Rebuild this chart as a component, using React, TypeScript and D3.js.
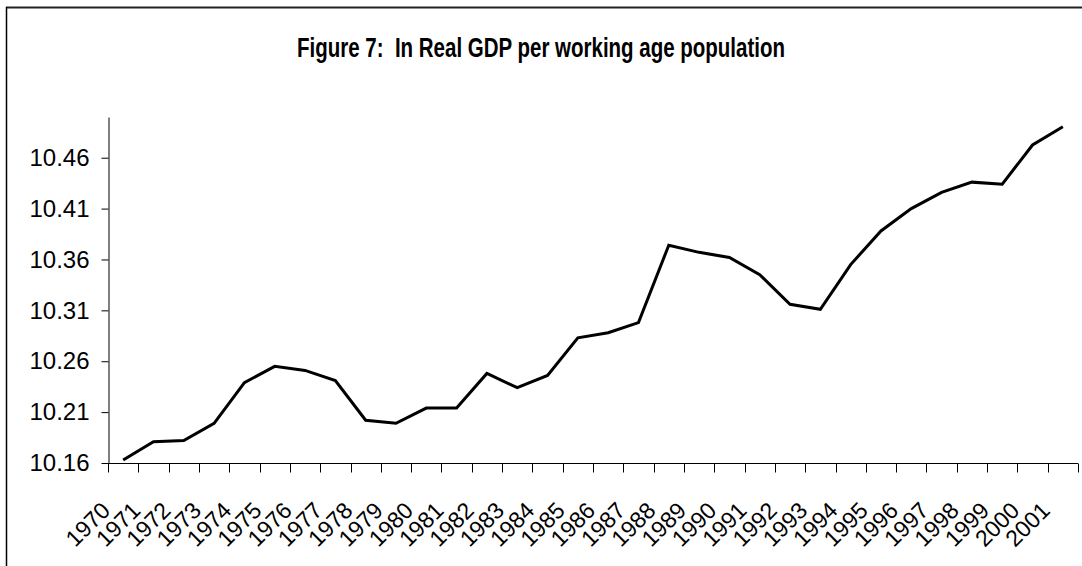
import * as d3 from 'd3';
import React, { useEffect, useRef } from 'react';

const years: string[] = [
    '1970', '1971', '1972', '1973', '1974', '1975', '1976', '1977',
    '1978', '1979', '1980', '1981', '1982', '1983', '1984', '1985',
    '1986', '1987', '1988', '1989', '1990', '1991', '1992', '1993',
    '1994', '1995', '1996', '1997', '1998', '1999', '2000', '2001',
];

// ln real GDP per working age person
const lnGdp: number[] = [
    10.163, 10.181, 10.182, 10.199, 10.239, 10.255, 10.251, 10.241,
    10.202, 10.199, 10.214, 10.214, 10.248, 10.234, 10.246, 10.283,
    10.288, 10.298, 10.374, 10.367, 10.362, 10.345, 10.316, 10.311,
    10.355, 10.388, 10.41, 10.426, 10.436, 10.434, 10.4725, 10.4905,
];

const yTicks: number[] = [10.16, 10.21, 10.26, 10.31, 10.36, 10.41, 10.46];

const title = 'Figure 7:  In Real GDP per working age population';

const width = 1082;
const height = 566;
const marginLeft = 108;
const marginRight = 4;
const marginTop = 117;
const marginBottom = 103;
const font = '"Liberation Sans", Arial, sans-serif';

const App = () => {
    const svgRef = useRef<SVGSVGElement | null>(null);

    useEffect(() => {
        document.body.style.margin = '0';

        const svg = d3.select(svgRef.current);
        svg.selectAll('*').remove();

        const x = d3
            .scaleBand<string>()
            .domain(years)
            .range([marginLeft, width - marginRight]);

        const y = d3
            .scaleLinear()
            .domain([10.16, 10.5])
            .range([height - marginBottom, marginTop]);

        // outer frame of the chart object (runs off right / bottom)
        svg.append('line')
            .attr('x1', 6)
            .attr('x2', width)
            .attr('y1', 7.5)
            .attr('y2', 7.5)
            .attr('stroke', '#222')
            .attr('stroke-width', 2);
        svg.append('line')
            .attr('x1', 6.5)
            .attr('x2', 6.5)
            .attr('y1', 7)
            .attr('y2', height)
            .attr('stroke', '#000')
            .attr('stroke-width', 1.5);

        // narrow bold title, squeezed to the width it has in the original
        svg.append('text')
            .attr('x', 541)
            .attr('y', 57)
            .attr('text-anchor', 'middle')
            .attr('font-family', font)
            .attr('font-weight', 'bold')
            .attr('font-size', 27)
            .attr('fill', '#000')
            .attr('textLength', 488)
            .attr('lengthAdjust', 'spacingAndGlyphs')
            .style('white-space', 'pre')
            .text(title);

        // y axis
        svg.append('g')
            .attr('transform', `translate(${marginLeft + 0.5},0)`)
            .call(
                d3
                    .axisLeft(y)
                    .tickValues(yTicks)
                    .tickFormat(d3.format('.2f'))
                    .tickSizeInner(7)
                    .tickSizeOuter(0)
                    .tickPadding(12),
            )
            .call((g) => g.select('.domain').attr('stroke', '#000'))
            .call((g) =>
                g
                    .selectAll('text')
                    .attr('font-family', font)
                    .attr('font-size', 24)
                    .attr('fill', '#000'),
            );

        // x axis, ticks between categories like Excel
        const xAxis = svg
            .append('g')
            .attr('transform', `translate(0,${height - marginBottom + 0.5})`);
        xAxis
            .append('line')
            .attr('x1', marginLeft)
            .attr('x2', width - marginRight)
            .attr('stroke', '#000');
        const edges = years.map((d) => x(d) as number).concat([x.range()[1]]);
        xAxis
            .selectAll('line.tick')
            .data(edges)
            .join('line')
            .attr('class', 'tick')
            .attr('x1', (d) => Math.round(d) + 0.5)
            .attr('x2', (d) => Math.round(d) + 0.5)
            .attr('y1', 0)
            .attr('y2', 9)
            .attr('stroke', '#000');
        xAxis
            .selectAll('text')
            .data(years)
            .join('text')
            .attr(
                'transform',
                (d) =>
                    `translate(${(x(d) as number) + x.bandwidth() / 2 - 23},37) rotate(-45)`,
            )
            .attr('dy', '0.7em')
            .attr('text-anchor', 'end')
            .attr('font-family', font)
            .attr('font-size', 23)
            .attr('fill', '#000')
            .text((d) => d);

        const line = d3
            .line<number>()
            .x((_, i) => (x(years[i]) as number) + x.bandwidth() / 2)
            .y((d) => y(d));

        svg.append('path')
            .datum(lnGdp)
            .attr('fill', 'none')
            .attr('stroke', '#000')
            .attr('stroke-width', 3)
            .attr('stroke-linejoin', 'miter')
            .attr('d', line);
    }, []);

    return (
        <svg
            ref={svgRef}
            width={width}
            height={height}
            style={{ display: 'block', background: '#fff' }}
        />
    );
};

export default App;
